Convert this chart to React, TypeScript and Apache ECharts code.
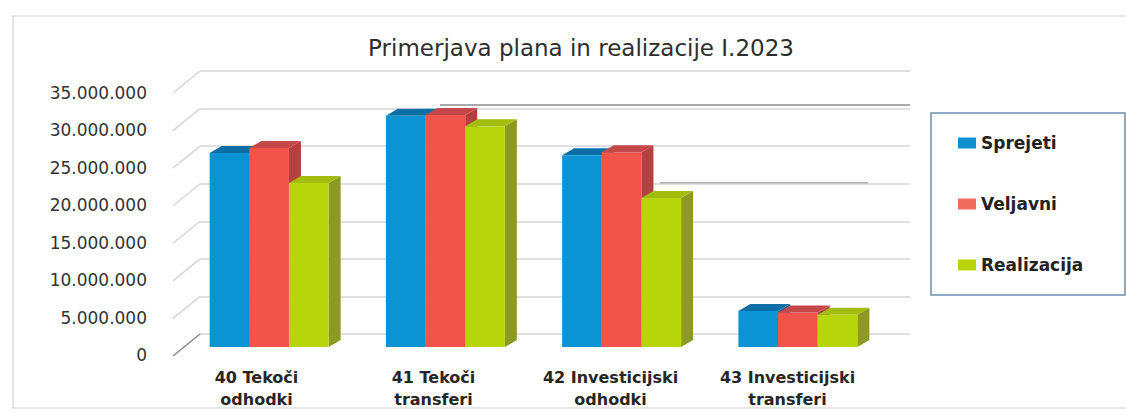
import React, { useEffect, useRef } from "react";
import * as echarts from "echarts";

const titleText = "Primerjava plana in realizacije I.2023";
const categories = [
  "40 Tekoči\nodhodki",
  "41 Tekoči\ntransferi",
  "42 Investicijski\nodhodki",
  "43 Investicijski\ntransferi",
];
const seriesNames = ["Sprejeti", "Veljavni", "Realizacija"];
const sprejeti = [25900000, 30900000, 25600000, 4800000];
const veljavni = [26600000, 31000000, 26000000, 4600000];
const realizacija = [21900000, 29500000, 19900000, 4300000];
const yTickValues = [0, 5000000, 10000000, 15000000, 20000000, 25000000, 30000000, 35000000];
const yMax = 35000000;
const yInterval = 5000000;

const palette = [
  { front: "#0b93d3", top: "#0b6fa6", side: "#0a6493", legend: "#0e8fcf" },
  { front: "#f0544b", top: "#c4474a", side: "#b5403f", legend: "#f06a5e" },
  { front: "#b6d50a", top: "#a2bd10", side: "#8c9a22", legend: "#b6d50a" },
];

const DX = 12;
const DY = -7;

const fmt = (v: number) => String(v).replace(/\B(?=(\d{3})+(?!\d))/g, ".");

function makeBarSeries(name: string, values: number[], idx: number) {
  const c = palette[idx];
  return {
    type: "custom",
    name,
    xAxisIndex: 0,
    yAxisIndex: 0,
    itemStyle: { color: c.legend },
    encode: { x: 0, y: 1 },
    data: values.map((v, i) => [i, v]),
    renderItem: (params: any, api: any) => {
      const cat = api.value(0);
      const val = api.value(1);
      const base = api.coord([cat, 0]);
      const top = api.coord([cat, val]);
      const band = api.size([1, 0])[0];
      const bw = band * 0.225;
      const x0 = base[0] - 1.5 * bw + idx * bw;
      const x1 = x0 + bw;
      const ty = top[1];
      const by = base[1];
      return {
        type: "group",
        children: [
          {
            type: "polygon",
            shape: { points: [[x1, ty], [x1 + DX, ty + DY], [x1 + DX, by + DY], [x1, by]] },
            style: { fill: c.side },
          },
          {
            type: "polygon",
            shape: { points: [[x0, ty], [x0 + DX, ty + DY], [x1 + DX, ty + DY], [x1, ty]] },
            style: { fill: c.top },
          },
          {
            type: "rect",
            shape: { x: x0, y: ty, width: bw, height: by - ty },
            style: { fill: c.front },
          },
        ],
      };
    },
  };
}

export default function App() {
  const ref = useRef<HTMLDivElement>(null);
  useEffect(() => {
    if (!ref.current) return;
    const chart = echarts.init(ref.current, null, { renderer: "svg" });
    const option: any = {
      animation: false,
      backgroundColor: "#ffffff",
      color: palette.map((p) => p.legend),
      title: {
        text: titleText,
        left: 576,
        top: 31,
        textAlign: "center",
        textStyle: { fontFamily: "DejaVu Sans", fontSize: 23, fontWeight: "normal", color: "#2e2e2e" },
      },
      legend: {
        data: seriesNames,
        orient: "vertical",
        left: 958,
        top: 134,
        itemWidth: 18,
        itemHeight: 11,
        itemGap: 43,
        padding: 0,
        icon: "rect",
        textStyle: { fontFamily: "DejaVu Sans", fontSize: 17, fontWeight: "bold", color: "#222222", lineHeight: 18 },
      },
      grid: [
        { left: 181, width: 705, top: 85, height: 262 },
        { left: 168, width: 708, top: 93, height: 262 },
        { left: 200, width: 710, top: 71, height: 263 },
      ],
      xAxis: [
        { gridIndex: 0, type: "category", data: categories, show: false },
        {
          gridIndex: 1,
          type: "category",
          data: categories,
          axisLine: { show: false },
          axisTick: { show: false },
          axisLabel: {
            margin: 11,
            interval: 0,
            fontFamily: "DejaVu Sans",
            fontSize: 16,
            fontWeight: "bold",
            color: "#262626",
            lineHeight: 22,
          },
        },
        { gridIndex: 2, type: "value", min: 0, max: 1, show: false },
      ],
      yAxis: [
        { gridIndex: 0, type: "value", min: 0, max: yMax, interval: yInterval, show: false },
        {
          gridIndex: 1,
          type: "value",
          min: 0,
          max: yMax,
          interval: yInterval,
          axisLine: { show: false },
          axisTick: { show: false },
          splitLine: { show: false },
          axisLabel: {
            margin: 21,
            formatter: fmt,
            fontFamily: "DejaVu Sans",
            fontSize: 17,
            color: "#333333",
          },
        },
        {
          gridIndex: 2,
          type: "value",
          min: 0,
          max: yMax,
          interval: yInterval,
          axisLine: { show: false },
          axisTick: { show: false },
          axisLabel: { show: false },
          splitLine: { show: true, lineStyle: { color: "#d6d6d6", width: 1.5 } },
        },
      ],
      series: [
        {
          type: "custom",
          xAxisIndex: 2,
          yAxisIndex: 2,
          silent: true,
          encode: { x: 0, y: 1 },
          data: yTickValues.map((v) => [0, v]),
          renderItem: (params: any, api: any) => {
            const v = api.value(1);
            const p = api.coord([0, v]);
            return {
              type: "line",
              shape: { x1: p[0] - 27, y1: p[1] + 22, x2: p[0], y2: p[1] },
              style: { stroke: v === 0 ? "#8a8a8a" : "#d6d6d6", lineWidth: 1.5 },
            };
          },
        },
        makeBarSeries(seriesNames[0], sprejeti, 0),
        makeBarSeries(seriesNames[1], veljavni, 1),
        makeBarSeries(seriesNames[2], realizacija, 2),
      ],
      graphic: [
        {
          type: "rect",
          z: -10,
          silent: true,
          shape: { x: 13, y: 16, width: 1125, height: 392 },
          style: { fill: "none", stroke: "#dedede", lineWidth: 1.5 },
        },
        {
          type: "rect",
          silent: true,
          shape: { x: 931, y: 113, width: 194, height: 182 },
          style: { fill: "none", stroke: "#6b8fac", lineWidth: 1.5 },
        },
        {
          type: "line",
          silent: true,
          shape: { x1: 440, y1: 105, x2: 910, y2: 105 },
          style: { stroke: "#555555", lineWidth: 1 },
        },
        {
          type: "line",
          silent: true,
          shape: { x1: 660, y1: 183, x2: 868, y2: 183 },
          style: { stroke: "#555555", lineWidth: 1 },
        },
      ],
    };
    chart.setOption(option);
    return () => chart.dispose();
  }, []);
  return (
    <div
      ref={ref}
      style={{ position: "absolute", left: 0, top: 0, width: 1126, height: 414 }}
    />
  );
}
